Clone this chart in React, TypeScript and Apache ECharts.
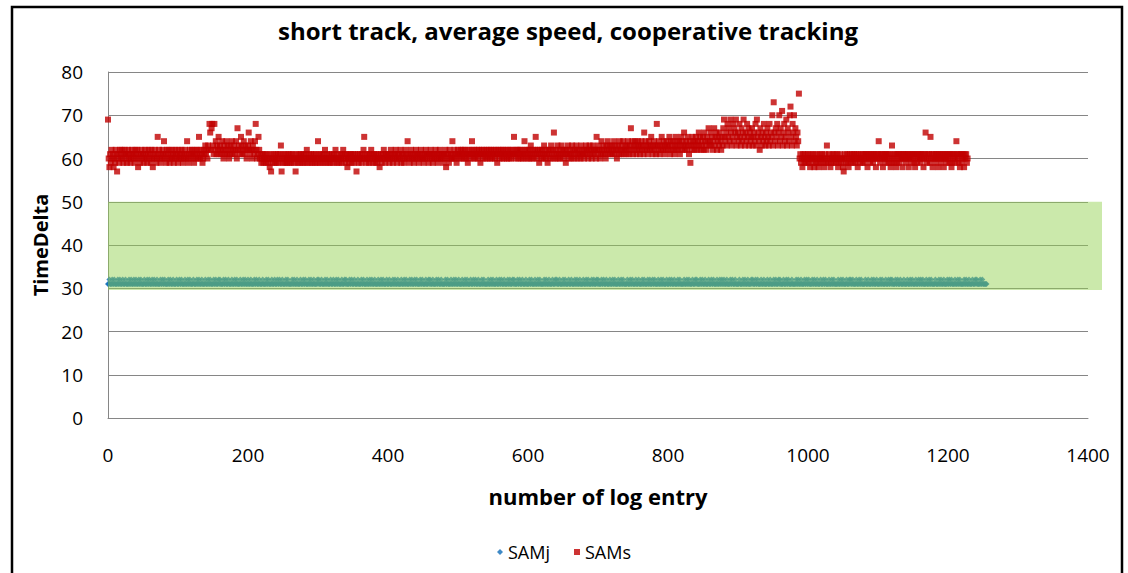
import React, { useEffect, useRef } from "react";
import * as echarts from "echarts";

const chartTitle = "short track, average speed, cooperative tracking";
const xAxisName = "number of log entry";
const yAxisName = "TimeDelta";
const seriesNames = ["SAMj", "SAMs"];

// SAMs values, log entries 0..1228
const samsA = [
  69,60,58,61,59,62,60,61,58,60,59,62,61,57,60,61,59,62,60,61,
  62,60,59,61,62,61,60,59,61,62,60,61,59,60,62,61,60,61,59,62,
  61,60,62,58,60,61,59,61,62,60,61,59,60,62,61,60,59,61,62,60,
  61,59,62,60,58,61,60,62,61,59,60,65,61,62,60,59,61,60,62,61,
  64,60,61,59,62,60,61,62,59,60,61,60,62,61,59,60,62,61,60,61,
];
const samsB = [
  59,62,60,61,60,62,61,59,60,61,62,60,61,64,60,59,61,62,60,61,
  62,61,60,59,61,62,60,61,62,60,65,61,60,62,61,59,60,62,61,63,
  61,62,60,63,62,68,66,62,67,68,63,61,68,62,64,61,63,62,65,61,
  63,62,61,64,62,60,63,61,62,64,61,63,62,60,61,63,62,64,61,62,
  63,61,62,64,60,67,62,63,61,62,65,63,61,62,64,61,63,62,60,62,
];
const samsC = [
  63,66,62,61,64,62,60,63,62,61,64,68,62,60,61,65,62,60,61,59,
  60,61,59,60,61,60,59,61,60,59,60,58,61,57,60,59,61,60,59,60,
  61,59,60,61,59,60,61,63,57,60,59,61,60,59,61,60,59,60,61,59,
  60,61,59,60,61,60,59,60,57,61,60,59,60,61,59,60,61,60,59,61,
  60,59,61,60,62,59,60,61,60,59,61,60,59,60,61,60,59,61,60,59,
];
const samsD = [
  64,60,61,59,60,61,60,59,61,60,62,59,60,61,60,59,61,60,59,60,
  61,60,59,61,60,62,60,59,61,60,59,60,61,60,59,61,62,60,61,59,
  60,61,58,60,59,61,60,61,59,60,61,60,59,61,60,57,60,61,59,60,
  61,60,59,61,60,62,65,60,61,59,60,61,60,59,61,60,62,61,59,60,
  61,60,59,61,60,59,61,60,58,60,61,59,60,61,62,60,59,61,60,61,
];
const samsE = [
  60,61,59,60,62,61,60,59,61,60,61,62,60,59,61,60,61,60,62,59,
  61,60,61,59,60,62,61,60,64,61,60,59,61,62,60,61,60,59,61,60,
  62,61,60,61,59,60,61,62,60,61,60,59,61,60,62,61,60,61,59,61,
  60,62,61,60,59,61,60,61,62,60,61,59,60,61,62,60,61,60,61,59,
  61,60,62,58,61,60,61,59,62,60,61,60,64,61,60,62,61,60,59,61,
];
const samsF = [
  62,61,60,61,62,60,61,62,61,60,62,61,60,61,59,62,61,60,61,62,
  64,61,60,62,61,60,61,62,61,60,62,61,59,61,62,60,61,62,61,60,
  61,62,60,61,62,61,60,62,61,60,61,62,61,60,62,61,59,61,62,60,
  61,62,61,60,62,61,60,61,62,61,60,62,61,60,61,62,60,61,62,61,
  65,61,60,62,61,62,60,61,62,61,60,62,61,60,61,64,62,61,60,62,
];
const samsG = [
  61,60,62,61,63,60,61,62,60,61,62,65,61,60,62,61,59,62,61,60,
  62,61,60,63,61,62,60,61,59,62,61,60,62,63,61,60,62,66,61,60,
  62,61,63,60,61,62,60,61,63,62,61,60,62,61,59,62,61,63,60,61,
  62,61,60,63,62,61,60,62,61,63,62,60,61,62,61,60,63,61,62,61,
  60,62,61,63,62,61,60,62,63,61,62,60,61,63,62,61,62,60,65,62,
];
const samsH = [
  61,63,62,60,61,64,62,61,63,62,61,60,63,62,64,61,62,63,61,62,
  63,61,62,64,61,63,62,60,62,63,61,64,62,61,63,62,64,61,62,63,
  62,61,63,64,62,61,63,67,62,64,61,63,62,64,63,61,62,64,63,62,
  61,63,64,62,63,61,66,62,64,63,62,61,63,64,62,63,65,62,61,63,
  64,62,63,61,68,63,62,64,61,63,62,65,63,62,64,61,63,62,64,63,
];
const samsI = [
  62,63,65,61,64,62,63,64,62,61,63,65,62,64,63,62,64,61,63,65,
  62,64,63,66,62,63,64,62,65,63,61,64,59,63,62,65,64,63,62,64,
  65,63,62,64,66,63,65,62,64,63,65,62,66,64,63,62,65,64,67,63,
  64,66,63,65,62,64,67,63,65,66,62,64,65,63,66,64,62,65,63,67,
  69,65,64,66,63,68,65,67,64,69,66,63,65,68,64,67,66,69,63,65,
];
const samsJ = [
  66,64,68,65,63,67,64,66,69,65,63,66,64,68,65,67,63,66,64,65,
  67,63,65,66,64,68,63,69,65,66,64,62,67,65,63,66,64,68,65,63,
  66,64,67,65,63,68,64,66,65,70,63,73,66,64,67,65,68,63,66,70,
  64,67,65,71,63,66,68,64,65,69,63,67,66,64,70,72,65,63,68,66,
  70,64,67,65,63,66,64,75,60,61,59,60,58,61,60,59,61,60,59,60,
];
const samsK = [
  61,59,60,58,61,60,59,60,61,58,60,59,61,60,59,58,60,61,59,60,
  61,60,59,58,60,61,59,63,60,59,61,60,58,59,60,61,60,59,61,60,
  59,60,61,58,60,59,61,60,59,60,58,57,60,61,59,60,61,59,58,60,
  61,59,60,61,60,59,61,60,59,61,60,58,61,60,59,60,61,60,59,61,
  60,59,61,60,61,58,60,61,60,59,61,60,61,59,60,61,60,58,61,60,
];
const samsL = [
  61,64,60,59,61,60,61,58,60,61,60,59,61,60,61,59,60,61,58,59,
  63,60,61,59,60,61,58,59,61,60,61,59,60,61,60,58,61,60,61,60,
  59,61,60,61,58,60,61,60,59,61,60,61,59,58,61,60,59,61,60,61,
  60,59,61,60,61,58,60,61,66,60,59,61,60,61,59,65,60,61,58,60,
  61,60,59,61,60,61,58,60,61,60,59,61,60,61,58,60,61,60,59,61,
];
const samsM = [
  60,61,59,60,61,58,59,61,60,61,59,60,64,61,60,59,61,58,61,59,
  60,61,60,58,61,60,61,59,60,
];

// SAMj values, log entries 0..1255
const samjA = [
  31,31,32,31,31,31,32,31,31,32,31,31,31,31,32,31,31,32,31,31,
  31,32,31,31,31,32,31,31,31,31,32,31,31,32,31,31,31,32,31,31,
  32,31,31,31,32,31,31,32,31,31,31,31,32,31,31,31,32,31,31,32,
  31,31,31,32,31,31,32,31,31,31,32,31,31,31,31,32,31,31,32,31,
  31,32,31,31,31,31,32,31,31,32,31,31,31,32,31,31,31,31,32,31,
];
const samjB = [
  31,31,32,31,31,32,31,31,31,31,32,31,31,31,32,31,31,32,31,31,
  31,31,32,31,31,31,31,32,31,31,32,31,31,31,32,31,31,31,31,32,
  31,31,31,32,31,31,32,31,31,31,31,32,31,31,32,31,31,31,32,31,
  32,31,31,31,31,32,31,31,32,31,31,31,32,31,31,31,31,32,31,31,
  31,32,31,31,32,31,31,31,31,32,31,31,31,32,31,31,32,31,31,31,
];
const samjC = [
  32,31,31,31,32,31,31,31,31,32,31,31,32,31,31,31,32,31,31,31,
  31,32,31,31,31,31,32,31,31,32,31,31,31,31,32,31,31,31,32,31,
  31,31,32,31,31,32,31,31,31,32,31,31,31,31,32,31,31,32,31,31,
  31,31,31,32,31,31,32,31,31,31,32,31,31,31,31,32,31,31,31,32,
  31,31,32,31,31,31,31,32,31,31,32,31,31,31,32,31,31,31,31,32,
];
const samjD = [
  31,32,31,31,31,32,31,31,31,31,32,31,31,32,31,31,31,31,32,31,
  31,31,32,31,31,31,32,31,31,32,31,31,31,31,32,31,31,31,32,31,
  32,31,31,31,31,32,31,31,32,31,31,31,32,31,31,31,31,32,31,31,
  31,31,32,31,31,32,31,31,31,31,32,31,31,31,32,31,31,32,31,31,
  31,32,31,31,31,31,32,31,31,31,32,31,31,32,31,31,31,31,32,31,
];
const samjE = [
  31,31,32,31,31,31,31,32,31,31,32,31,31,31,32,31,31,31,31,32,
  31,31,31,32,31,31,32,31,31,31,31,32,31,31,32,31,31,31,32,31,
  31,32,31,31,31,31,32,31,31,32,31,31,31,31,32,31,31,31,32,31,
  32,31,31,31,32,31,31,31,31,32,31,31,32,31,31,31,32,31,31,31,
  31,31,32,31,31,32,31,31,31,31,32,31,31,31,32,31,31,32,31,31,
];
const samjF = [
  31,32,31,31,31,31,32,31,31,31,32,31,31,32,31,31,31,31,32,31,
  31,31,32,31,31,32,31,31,31,32,31,31,31,31,32,31,31,32,31,31,
  31,31,31,32,31,31,31,32,31,31,32,31,31,31,31,32,31,31,31,32,
  31,31,32,31,31,31,32,31,31,31,31,32,31,31,32,31,31,31,32,31,
  32,31,31,31,31,32,31,31,32,31,31,31,32,31,31,31,31,32,31,31,
];
const samjG = [
  31,31,32,31,31,32,31,31,31,31,32,31,31,31,32,31,31,32,31,31,
  31,31,31,32,31,31,32,31,31,31,32,31,31,31,31,32,31,31,31,32,
  31,32,31,31,31,32,31,31,31,31,32,31,31,32,31,31,31,31,32,31,
  31,31,32,31,31,31,31,32,31,31,32,31,31,31,32,31,31,31,31,32,
  31,31,31,32,31,31,32,31,31,31,31,32,31,31,32,31,31,31,32,31,
];
const samjH = [
  32,31,31,31,31,32,31,31,32,31,31,31,32,31,31,31,31,32,31,31,
  31,32,31,31,32,31,31,31,31,32,31,31,31,32,31,31,32,31,31,31,
  31,31,32,31,31,31,32,31,31,32,31,31,31,31,32,31,31,31,32,31,
  31,31,31,32,31,31,32,31,31,31,31,32,31,31,32,31,31,31,32,31,
  31,32,31,31,31,31,32,31,31,31,32,31,31,32,31,31,31,31,32,31,
];
const samjI = [
  31,31,32,31,31,32,31,31,31,32,31,31,31,31,32,31,31,32,31,31,
  31,31,31,32,31,31,31,32,31,31,32,31,31,31,31,32,31,31,31,32,
  31,32,31,31,31,31,32,31,31,32,31,31,31,32,31,31,31,31,32,31,
  31,31,32,31,31,32,31,31,31,31,32,31,31,31,32,31,31,32,31,31,
  32,31,31,31,32,31,31,31,31,32,31,31,32,31,31,31,32,31,31,31,
];
const samjJ = [
  31,31,32,31,31,31,31,32,31,31,32,31,31,31,32,31,31,31,31,32,
  31,32,31,31,31,32,31,31,32,31,31,31,31,32,31,31,31,32,31,31,
  31,31,32,31,31,31,32,31,31,31,31,32,31,31,32,31,31,31,32,31,
  32,31,31,31,31,32,31,31,31,32,31,31,32,31,31,31,31,32,31,31,
  31,31,31,32,31,31,32,31,31,31,32,31,31,31,31,32,31,31,32,31,
];
const samjK = [
  31,32,31,31,31,31,32,31,31,32,31,31,31,32,31,31,31,31,32,31,
  31,31,32,31,31,32,31,31,31,31,32,31,31,31,32,31,31,32,31,31,
  31,31,31,32,31,31,31,32,31,31,32,31,31,31,31,32,31,31,31,32,
  31,32,31,31,32,31,31,31,31,32,31,31,31,32,31,31,32,31,31,31,
  31,31,32,31,31,31,32,31,31,31,31,32,31,31,32,31,31,31,32,31,
];
const samjL = [
  31,31,31,32,31,31,32,31,31,31,31,32,31,31,31,32,31,31,32,31,
  32,31,31,31,31,32,31,31,32,31,31,31,32,31,31,31,31,32,31,31,
  31,31,32,31,31,31,32,31,31,32,31,31,31,31,32,31,31,31,32,31,
  31,32,31,31,32,31,31,31,31,32,31,31,31,32,31,31,32,31,31,31,
  31,31,32,31,31,31,31,32,31,31,32,31,31,31,32,31,31,31,31,32,
];
const samjM = [
  31,31,32,31,31,32,31,31,31,31,32,31,31,31,32,31,31,32,31,31,
  31,31,31,32,31,31,32,31,31,31,32,31,31,31,31,32,31,31,31,32,
  31,32,31,31,31,31,32,31,31,32,31,31,31,31,31,31,
];

const samsValues = [
  ...samsA, ...samsB, ...samsC, ...samsD, ...samsE, ...samsF, ...samsG,
  ...samsH, ...samsI, ...samsJ, ...samsK, ...samsL, ...samsM,
];
const samjValues = [
  ...samjA, ...samjB, ...samjC, ...samjD, ...samjE, ...samjF, ...samjG,
  ...samjH, ...samjI, ...samjJ, ...samjK, ...samjL, ...samjM,
];

// target band (TimeDelta range) drawn as overlay
const bandLow = 29.6;
const bandHigh = 50;
const bandEndX = 1420;

const FONT = "'Open Sans', Lato, 'DejaVu Sans', sans-serif";

export default function App() {
  const ref = useRef<HTMLDivElement>(null);

  useEffect(() => {
    if (!ref.current) return;
    const chart = echarts.init(ref.current, null, { renderer: "svg" });
    const grey = "#868686";
    chart.setOption({
      animation: false,
      backgroundColor: "#ffffff",
      textStyle: { fontFamily: FONT },
      title: {
        text: chartTitle,
        left: 563,
        top: 13,
        textAlign: "center",
        textStyle: { fontFamily: FONT, fontSize: 24, fontWeight: "bold", color: "#000" },
      },
      grid: { left: 108, top: 72, right: 40, bottom: 155 },
      legend: {
        bottom: 7,
        left: "center",
        data: [
          { name: seriesNames[0], icon: "diamond" },
          { name: seriesNames[1], icon: "rect" },
        ],
        itemWidth: 6,
        itemHeight: 6,
        itemGap: 24,
        textStyle: { fontFamily: FONT, fontSize: 18, color: "#000" },
      },
      xAxis: {
        type: "value",
        min: 0,
        max: 1400,
        interval: 200,
        name: xAxisName,
        nameLocation: "middle",
        nameGap: 67,
        nameTextStyle: { fontFamily: FONT, fontSize: 22, fontWeight: "bold", color: "#000" },
        axisLine: { show: true, lineStyle: { color: grey, width: 1 } },
        axisTick: { show: false },
        axisLabel: {
          fontFamily: FONT,
          fontSize: 19,
          color: "#000",
          margin: 27,
          formatter: (v: number) => String(v),
        },
        splitLine: { show: false },
      },
      yAxis: {
        type: "value",
        min: 0,
        max: 80,
        interval: 10,
        name: yAxisName,
        nameLocation: "middle",
        nameGap: 58,
        nameTextStyle: { fontFamily: FONT, fontSize: 20, fontWeight: "bold", color: "#000" },
        axisLine: { show: true, lineStyle: { color: grey, width: 1 } },
        axisTick: { show: false },
        axisLabel: {
          fontFamily: FONT,
          fontSize: 19,
          color: "#000",
          margin: 25,
          formatter: (v: number) => String(v),
        },
        splitLine: { show: true, lineStyle: { color: grey, width: 1 } },
      },
      series: [
        {
          name: seriesNames[0],
          type: "scatter",
          symbol: "diamond",
          symbolSize: 6,
          itemStyle: { color: "#0f6db8" },
          data: samjValues.map((v, i) => [i, v]),
          z: 2,
        },
        {
          name: seriesNames[1],
          type: "scatter",
          symbol: "rect",
          symbolSize: 6,
          itemStyle: { color: "#c00000" },
          data: samsValues.map((v, i) => [i, v]),
          z: 3,
        },
      ],
    });

    const p1 = chart.convertToPixel({ gridIndex: 0 }, [0, bandHigh]) as number[];
    const p2 = chart.convertToPixel({ gridIndex: 0 }, [bandEndX, bandLow]) as number[];
    chart.setOption({
      graphic: [
        {
          type: "rect",
          z: 100,
          silent: true,
          shape: { x: p1[0], y: p1[1], width: p2[0] - p1[0], height: p2[1] - p1[1] },
          style: { fill: "rgba(146,208,80,0.48)" },
        },
        {
          type: "rect",
          z: 101,
          silent: true,
          shape: { x: 12, y: 7, width: 1110, height: 620 },
          style: { fill: "none", stroke: "#000", lineWidth: 2.5 },
        },
      ],
    });

    return () => chart.dispose();
  }, []);

  return (
    <div
      ref={ref}
      style={{ position: "fixed", left: 0, top: 0, width: 1128, height: 573 }}
    />
  );
}
